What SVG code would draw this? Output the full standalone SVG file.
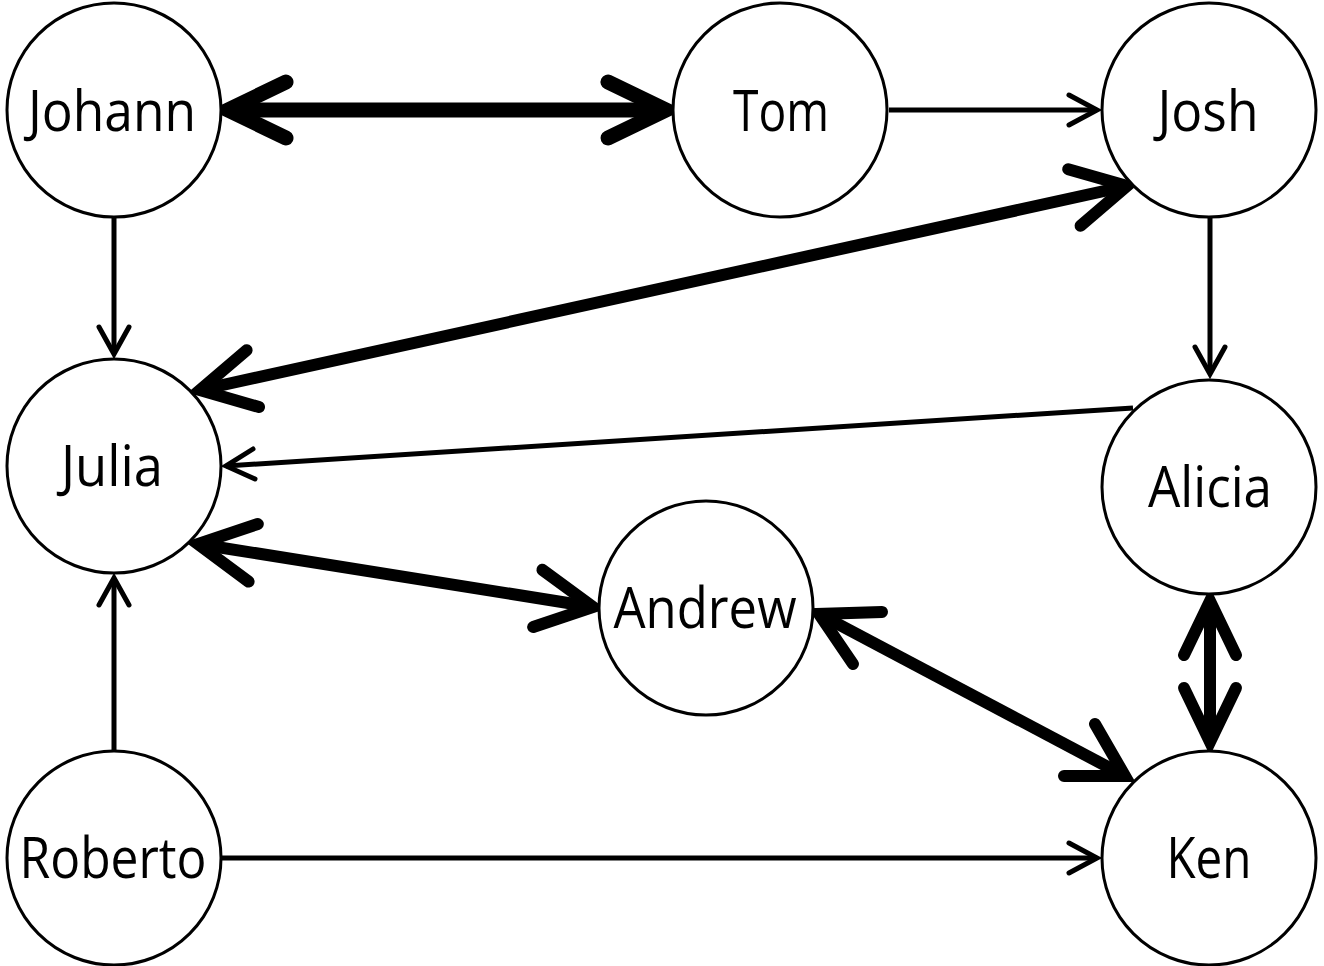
<svg xmlns="http://www.w3.org/2000/svg" width="1324" height="966" viewBox="0 0 1324 966">
<style>
.node circle{fill:#fff;stroke:#000;stroke-width:3}
.node text{font-family:"Open Sans","Noto Sans","Liberation Sans",sans-serif;font-size:56px;fill:#000;text-anchor:middle}
.thin{stroke:#000;stroke-width:5;fill:none}
.thinhead{stroke:#000;stroke-width:5;fill:none;stroke-linecap:round;stroke-linejoin:miter;stroke-miterlimit:10}
.thick{stroke:#000;stroke-width:12;fill:none}
.thickhead{stroke:#000;stroke-width:12;fill:none;stroke-linecap:round;stroke-linejoin:miter;stroke-miterlimit:10}
.thicker{stroke:#000;stroke-width:15;fill:none}
.thickerhead{stroke:#000;stroke-width:15;fill:none;stroke-linecap:round;stroke-linejoin:miter;stroke-miterlimit:10}
</style>
<g id="connectors">
  <!-- Johann <-> Tom -->
  <path class="thicker" d="M228,110 H666"/>
  <path class="thickerhead" d="M286,82 L228,110 L286,138"/>
  <path class="thickerhead" d="M608,82 L666,110 L608,138"/>
  <!-- Tom -> Josh -->
  <path class="thin" d="M889,110 H1097"/>
  <path class="thinhead" d="M1069,95 L1097,110 L1069,125"/>
  <!-- Josh <-> Julia -->
  <path class="thick" d="M200,390 L1127,186"/>
  <path class="thickhead" d="M246.6,350.2 L200,390 L259,407"/>
  <path class="thickhead" d="M1068.2,169.2 L1127,186 L1080.6,225.8"/>
  <!-- Johann -> Julia -->
  <path class="thin" d="M114,218 V354"/>
  <path class="thinhead" d="M99,327 L114,354 L129,327"/>
  <!-- Josh -> Alicia -->
  <path class="thin" d="M1210,218 V374"/>
  <path class="thinhead" d="M1195,347 L1210,374 L1225,347"/>
  <!-- Alicia -> Julia -->
  <path class="thin" d="M1133,408 L226,466"/>
  <path class="thinhead" d="M253,449 L226,466 L255,479"/>
  <!-- Julia <-> Andrew -->
  <path class="thick" d="M198,544 L593,607"/>
  <path class="thickhead" d="M257.8,524 L198,544 L248.6,581.6"/>
  <path class="thickhead" d="M542.4,569.8 L593,607 L533.2,627"/>
  <!-- Andrew <-> Ken -->
  <path class="thick" d="M819,614 L1125,776"/>
  <path class="thickhead" d="M882,612 L819,614 L853,664"/>
  <path class="thickhead" d="M1095,724 L1125,776 L1064,776"/>
  <!-- Alicia <-> Ken -->
  <path class="thick" d="M1210,601 V742"/>
  <path class="thickhead" d="M1184,655 L1210,601 L1236,655"/>
  <path class="thickhead" d="M1184,688 L1210,742 L1236,688"/>
  <!-- Roberto -> Julia -->
  <path class="thin" d="M114,750 V578"/>
  <path class="thinhead" d="M99,605 L114,578 L129,605"/>
  <!-- Roberto -> Ken -->
  <path class="thin" d="M222,858 H1097"/>
  <path class="thinhead" d="M1069,843 L1097,858 L1069,873"/>
</g>
<g id="node-johann" class="node"><circle cx="114" cy="110" r="107"/><text x="112" y="131" textLength="168" lengthAdjust="spacingAndGlyphs">Johann</text></g>
<g id="node-tom" class="node"><circle cx="780" cy="110" r="107"/><text x="781" y="131" textLength="96" lengthAdjust="spacingAndGlyphs">Tom</text></g>
<g id="node-josh" class="node"><circle cx="1209" cy="110" r="107"/><text x="1208" y="131" textLength="101" lengthAdjust="spacingAndGlyphs">Josh</text></g>
<g id="node-julia" class="node"><circle cx="114" cy="466" r="107"/><text x="112" y="486" textLength="102" lengthAdjust="spacingAndGlyphs">Julia</text></g>
<g id="node-alicia" class="node"><circle cx="1209" cy="487" r="107"/><text x="1210" y="507" textLength="124" lengthAdjust="spacingAndGlyphs">Alicia</text></g>
<g id="node-andrew" class="node"><circle cx="706" cy="608" r="107"/><text x="705" y="628" textLength="183" lengthAdjust="spacingAndGlyphs">Andrew</text></g>
<g id="node-roberto" class="node"><circle cx="114" cy="858" r="107"/><text x="113" y="878" textLength="187" lengthAdjust="spacingAndGlyphs">Roberto</text></g>
<g id="node-ken" class="node"><circle cx="1209" cy="858" r="107"/><text x="1209" y="878" textLength="85" lengthAdjust="spacingAndGlyphs">Ken</text></g>
</svg>
